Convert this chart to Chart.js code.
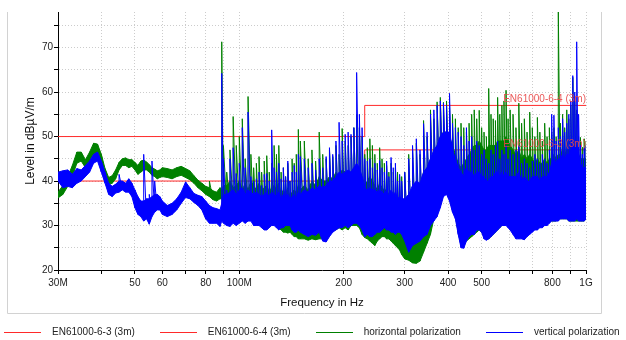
<!DOCTYPE html>
<html>
<head>
<meta charset="utf-8">
<script src="https://cdn.jsdelivr.net/npm/chart.js@4.4.1/dist/chart.umd.min.js"></script>
<style>
html,body{margin:0;padding:0;background:#fff}
#wrap{position:relative;width:626px;height:340px}
#legend{position:absolute;left:4px;top:326px;display:flex;align-items:center;font:10px 'Liberation Sans',Arial,sans-serif;line-height:12px;color:#222;white-space:nowrap}
#legend .item{display:flex;align-items:center;margin-right:25px}
#legend .ln{display:inline-block;width:37px;height:0;border-top:1px solid;margin-right:11px}
</style>
</head>
<body>
<div id="wrap">
  <canvas id="c" width="626" height="340"></canvas>
  <div id="legend"></div>
</div>
<script>
Chart.defaults.font.family="'Liberation Sans',Arial,sans-serif";
Chart.defaults.font.size=10;

// x axis ticks (MHz)
const xTicks=[30,40,50,60,70,80,90,100,200,300,400,500,600,700,800,900,1000];
const xTickText=['30M','','50','60','','80','','100M','200','300','400','500','','','800','','1G'];

// limit lines
const limit63Freq=[30,230,230,1000];
const limit63Level=[40,40,47,47];
const limit64Freq=[30,230,230,1000];
const limit64Level=[50,50,57,57];

// measurement frequencies (MHz)
const freq=[30,31,32,33,34,35,36,37,38,39,40,41,42,43,44,45,46,47,48,49,50,51,52,53,54,55,56,57,58,59,60,
62,64,66,68,70,72,74,76,78,80,82,84,86,88,89,90,
92,94,96,98,100,102,104,106,108,110,112,114,116,118,120,122,124,126,128,130,132,134,136,138,140,142,144,146,148,150,
154,158,162,166,170,174,178,182,186,190,194,198,202,206,210,214,218,222,226,230,234,238,242,246,250,254,258,262,266,270,274,278,282,286,290,294,300,
308,316,324,332,340,348,356,364,372,380,388,396,404,412,420,428,436,444,452,460,468,476,484,492,500,508,516,524,532,540,548,556,564,572,580,588,596,604,
616,628,640,652,664,676,688,700,712,724,736,748,760,772,784,796,808,820,832,844,856,868,880,892,904,916,928,940,952,964,976,988,1000];

// horizontal polarization, dBµV/m: floor, top of the dense band, peaks
const horLow=[36.2,37,38.8,41,44,44.5,43,44.5,46,46,43.5,40.8,39.2,39.5,40.5,42.5,43.5,43.5,43,43.3,42.5,41.5,42,42.5,42.5,42,41.3,41,40.5,40.8,41,
40.8,40.5,41,41.3,40.8,40.3,39.5,38.5,37.8,37,36.5,35.8,35.5,36,36,33,
34,34,34,33,34,33.5,34,33.5,34,33,31.5,31,30.5,30.5,30,30.5,31,30.5,30,29.5,29,28.5,28.5,28.3,28.5,28,27.5,27.5,27,27,
27,26.7,27,26.8,27,27,27.5,28.5,29,29,29.5,29,29.5,29,30,30,30,29.5,28,27.3,27,26.5,26,25.5,26.5,27,27.5,27.5,27,27,26.5,26,25.5,25,24.5,23.5,22.5,
22.2,21.6,21.5,22,24,26,28,31.5,32.5,34.5,37,37.5,36,33.5,32,28.5,25.5,26,26.5,27,27.5,28,28.5,29,28.5,27.5,27,27,27.5,28,28.5,29,29.5,30,30,30.5,30,29.5,
29,28.5,28.5,28,28,28.5,29,29,29.5,29.5,30,30,30.5,30.5,31,31,31,31,31.5,31.5,31.5,31.5,31.5,31,31,31,31,31,31,31,31,31,31.5];
const horBody=[37.5,39,41,43.5,46.5,46.5,44.8,46.5,48.5,48.3,46,42.8,40.8,41.2,42.5,44.2,45,45.2,44.8,44.8,44.2,43.5,44.5,44.7,44.3,43.7,43,42.7,42.3,42.5,43,
42.8,42.5,43,43.3,42.8,42.3,41.2,40.2,39.5,38.8,38.5,37.8,37.5,38.5,38,39,
39,40,38.5,39,40,38,39.5,38,40,39,38,39.5,38,38.5,39,37.5,38.5,39,38,39.5,37,38,37,38.5,36.5,37.5,38,37.5,39,38,
39,38,40,39,41,40,40,41,40.5,42,41,42.5,42,41.5,42,43,43,42,41,39,40,41,40,39,38,39.5,38.5,38,38,37,37.5,36.5,37,36,35.5,35,35,
37,38,39,39,42,43,45,46,48,50,51,51,50,48,46,44,43,44,45,46,47,48,48,49,48,47,47,48,48,48,48,49,49,49,49,50,49,48,
47,46,47,45,46,45,46,45,44,45,44,44,45,44,45,45,46,45,46,46,47,46,47,47,48,48,48,47,46,45,45,45,45];
const horHigh=[37.5,39,41,43.5,46.5,46.5,44.8,46.5,48.5,48.3,46,42.8,40.8,41.2,42.5,44.2,45,45.2,44.8,44.8,44.2,43.5,44.5,44.7,44.3,43.7,43,42.7,42.3,42.5,43,
42.8,42.5,43,43.3,42.8,42.3,41.2,40.2,39.5,38.8,40,37.8,37.5,38.5,71.3,48,
42,47,54.5,48,50,54,45,59,46,43,44,45.5,42,44.5,45.7,42,44,48,46,48,42,43,41,44,40,45,44,46,51.6,49,
49,45,47,44.5,51,46,45,47,45.5,48,46,51.8,49,48,50,52,55,52,50,46,47.5,49.5,48,46,44,47.5,45,44,43.5,42,44,42,43,42,41,41,42,
46,47,48.5,46,53.6,50,56,54,57.8,58.8,57.7,58,57,55,54,52,53,52,51,53,55,56,54,55.9,52,51,50,60.8,55,54,53.6,58.8,55,57,58,60.4,54,56,
55,52,57.5,53,54,51,55.5,52,50,54.3,51,49,53,50,52,51,52,50,78.5,53,55,52,56,54,57,63.3,58,56,50,49.8,47.6,49.5,49];

// vertical polarization, dBµV/m: floor, top of the dense band, peaks
const verLow=[40,38.5,38.8,38.5,39.5,40,41,42,44,44.5,42,39.5,37,36.5,37.3,37.5,38,37.5,37.5,36.5,34,32.5,32,31,31.5,30.3,32,33,33.5,33.5,32.5,
32,32.5,33.5,35,36.3,36,35.2,34.5,33.5,31.5,30.5,30.5,30.5,29.8,31,30.5,
30,29.8,30.5,30,30.5,31,30.5,31,31,30,30,30,29.5,29,29,29.5,30,30,29.5,29,29.5,29.5,30,30,30,29,28.5,28.5,29,28.5,
28,27.5,28,27.8,28.5,26.5,26.3,27.5,28.5,29,29.5,29.5,30,29.5,30,30.5,30.5,30,29,27.5,28,27.5,27.5,28,28.5,28.5,29,29.5,29,29,28.5,28.5,28,28.5,28.5,28,26.5,
24,25.5,26,26.5,27.5,28,30,31,32,34,36.5,37,35.5,33,31.5,28,25,24.9,26.5,27.5,28,28,29,29,28.5,27,26.7,27,27.5,28,28.5,29,29.5,30,30,30,29.5,29,
28,27,27,27,26.8,27.5,28,28.5,29,29,29.5,29.5,30,30,30.5,31,31,31,31,31.5,31.5,31.5,31.5,31,31,31,31,31.5,31,31,31,31,31.5];
const verBody=[42,42.3,42.5,41.5,42.8,42.5,43.5,44.5,46,46.5,44.5,42,39.5,38.8,39.3,40,40,39.5,40.5,39.5,38,36.5,35.5,35.5,36,36,36.5,37,37,36.5,35.5,
34.5,35,36,37.5,39.8,38.5,37.2,36.8,36.5,35.5,34.5,34,33.8,33.5,35,37,
37,37.5,38,37,38,38.5,37,38,37.5,37,37.5,37,36.5,37,37.5,36.5,37.5,37,36.5,37.5,36,37,36.5,37,36,36.5,37,36,37.5,37,
38,37.5,38.5,38,39,38.5,39,40,40,41,42,41.5,42,42.5,42,43,44,43,41,38.5,38,38.5,38,38,37.5,38,37.5,37,38,36.5,38,37,37.5,36,36.5,36,36,
37,39,40,39.5,42,43,45,47,48,50,51,51,51,47,45,43,42,41,43,42,42,41,42,42,41,41,40,40,41,41,42,42,41,42,41,42,41,41,
41,41,42,40,41,40,40,41,41,41,40,41,41,41,42,44,45,44,45,45,46,45,46,46,47,48,47,48,46,44,43,43,43];
const verHigh=[42,42.3,42.5,41.5,42.8,42.5,43.5,44.5,46,46.5,44.5,42,39.5,38.8,39.3,41.5,40,39.5,40.5,39.5,38,36.5,35.5,46,36,37,44.5,40,37,36.5,35.5,
34.5,35,36,37.5,39.8,38.5,37.2,36.8,36.5,35.5,34.5,34,33.8,33.5,64.2,45,
38,45,47.5,41.7,44,52,43,55.5,41,40,40.5,42,39,41.5,41.7,40,51.5,43,42,44,40.5,43,41,44.5,40,42,43.5,42,46,45.5,
45,43,44,42.5,45,43,45.5,47.5,46,49,53.2,49,50.5,51,50.5,52,64.4,55,52,45,44.5,45,43,44,42.5,44.6,43,42,44.5,41,45.3,43,44,40,41.5,40,42,
45,48,49.5,47,52.9,51,55,56,57,58,57.5,57,59.7,53,52,51,50,48,52,49,50,47,49,48,46,47,45,44,47,46,48,49,45,47,46,48,45,47,
46,47,48,44,45,44,43,44.5,46,45,44,46,45,44,47,55,54.8,49,52,50,54,51,53,55,58,63.7,60,71.3,55,48,46,47.5,48];

const GREEN='#008000', BLUE='#0000ff', RED='#ff2a2a';

function line(fs,ls){return fs.map((f,i)=>({x:f,y:ls[i]}));}
// peaks: vertical stroke floor -> peak at every frequency
function peaks(lo,hi){
  const pts=[];
  freq.forEach((f,i)=>{pts.push({x:f,y:lo[i]});pts.push({x:f,y:hi[i]});});
  return pts;
}

const framePlugin={
  id:'frame',
  beforeDraw(chart){
    const c=chart.ctx;
    c.save();
    c.strokeStyle='#d2d2d2';c.lineWidth=1;
    c.beginPath();
    c.moveTo(7.5,12);c.lineTo(7.5,313.5);c.lineTo(601.5,313.5);c.lineTo(601.5,12);
    c.stroke();
    c.restore();
  }
};

const limitLabels={
  id:'limitLabels',
  afterDatasetsDraw(chart){
    const c=chart.ctx, xs=chart.scales.x, ys=chart.scales.y;
    c.save();
    c.font="10px 'Liberation Sans',Arial,sans-serif";
    c.fillStyle='rgba(232,70,70,0.9)';
    c.textAlign='right';c.textBaseline='bottom';
    [[limit64Level,'EN61000-6-4 (3m)'],[limit63Level,'EN61000-6-3 (3m)']].forEach(([lv,t])=>{
      c.fillText(t,xs.right,ys.getPixelForValue(lv[lv.length-1])-1);
    });
    c.restore();
  }
};

const base={pointRadius:0,borderWidth:1,borderJoinStyle:'bevel'};
const chart=new Chart(document.getElementById('c'),{
  type:'line',
  data:{datasets:[
    {...base,label:'EN61000-6-3 (3m)',inLegend:true,data:line(limit63Freq,limit63Level),borderColor:RED,order:10},
    {...base,label:'EN61000-6-4 (3m)',inLegend:true,data:line(limit64Freq,limit64Level),borderColor:RED,order:9},
    {...base,label:'hor floor',data:line(freq,horLow),borderColor:GREEN,order:6},
    {...base,label:'hor band',data:line(freq,horBody),borderColor:GREEN,backgroundColor:GREEN,fill:'-1',order:5},
    {...base,label:'horizontal polarization',inLegend:true,data:peaks(horLow,horHigh),borderColor:GREEN,order:4},
    {...base,label:'ver floor',data:line(freq,verLow),borderColor:BLUE,order:3},
    {...base,label:'ver band',data:line(freq,verBody),borderColor:BLUE,backgroundColor:BLUE,fill:'-1',order:2},
    {...base,label:'vertical polarization',inLegend:true,data:peaks(verLow,verHigh),borderColor:BLUE,order:1}
  ]},
  options:{
    responsive:false,animation:false,devicePixelRatio:1,
    layout:{padding:{top:12,right:40,bottom:27,left:0}},
    plugins:{legend:{display:false},tooltip:{enabled:false}},
    scales:{
      x:{type:'logarithmic',min:30,max:1000,
        afterBuildTicks:s=>{s.ticks=xTicks.map(v=>({value:v}));},
        afterFit:s=>{s.height=43;},
        ticks:{autoSkip:false,maxRotation:0,padding:3,color:'#222',callback:(v,i)=>xTickText[i]},
        grid:{color:'#cccccc',tickColor:'#000',tickLength:4},
        border:{color:'#000',dash:[1,2]},
        title:{display:true,text:'Frequency in Hz',color:'#111',font:{size:11.5},padding:{top:0,bottom:3}}
      },
      y:{min:20,max:78,
        afterFit:s=>{s.width=58;},
        ticks:{stepSize:5,includeBounds:false,padding:1,color:'#222',callback:v=>v%10===0?v:''},
        grid:{color:'#cccccc',tickColor:'#000',tickLength:4},
        border:{color:'#000',dash:[1,2]},
        title:{display:true,text:'Level in dBµV/m',color:'#111',font:{size:12},padding:{top:23,bottom:0}}
      }
    }
  },
  plugins:[framePlugin,limitLabels]
});

const leg=document.getElementById('legend');
chart.data.datasets.filter(ds=>ds.inLegend).forEach(ds=>{
  const it=document.createElement('span');
  it.className='item';
  const ln=document.createElement('span');
  ln.className='ln';
  ln.style.borderColor=ds.borderColor;
  it.appendChild(ln);
  it.appendChild(document.createTextNode(ds.label));
  leg.appendChild(it);
});
</script>
</body>
</html>
